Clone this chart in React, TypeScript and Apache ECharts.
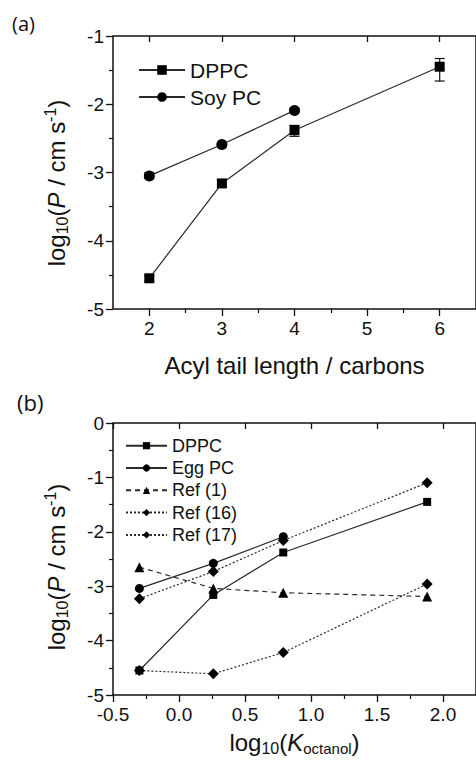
import React, { useEffect, useRef } from "react";
import * as echarts from "echarts";

// ---------- Panel (a) data ----------
const tailLengths = [2, 3, 4, 6];
const dppcA = [-4.55, -3.16, -2.38, -1.45];
const dppcALow = [-4.59, -3.21, -2.47, -1.66];
const dppcAHigh = [-4.51, -3.11, -2.31, -1.33];
const soyTails = [2, 3, 4];
const soyA = [-3.05, -2.59, -2.09];
const soyALow = [-3.09, -2.62, -2.12];
const soyAHigh = [-3.0, -2.56, -2.06];
const tailTicks = [2, 3, 4, 5, 6];
const tailMinorTicks = [2.5, 3.5, 4.5, 5.5];

// ---------- Panel (b) data ----------
const logK = [-0.3, 0.26, 0.79, 1.88];
const logKEgg = [-0.3, 0.26, 0.79];
const dppcB = [-4.55, -3.16, -2.38, -1.45];
const eggB = [-3.04, -2.58, -2.09];
const ref1 = [-2.65, -3.04, -3.12, -3.19];
const ref16 = [-3.23, -2.73, -2.16, -1.1];
const ref17 = [-4.55, -4.61, -4.22, -2.96];
const kTicks = [-0.5, 0, 0.5, 1, 1.5, 2];
const kMinorTicks = [-0.25, 0.25, 0.75, 1.25, 1.75];

const FONT = "Liberation Sans, Arial, sans-serif";
const INK = "#111";
const LINE = "#2a2a2a";

const zip = (xs: number[], ys: number[]) => ys.map((y, i) => [xs[i], y]);
const zip3 = (xs: number[], a: number[], b: number[]) => xs.map((x, i) => [x, a[i], b[i]]);

function errorBars(xAxisIndex: number, yAxisIndex: number, data: number[][]) {
  return {
    type: "custom",
    xAxisIndex,
    yAxisIndex,
    z: 1,
    encode: { x: 0, y: [1, 2] },
    data,
    renderItem: (_p: any, api: any) => {
      const x = api.value(0);
      const lo = api.coord([x, api.value(1)]);
      const hi = api.coord([x, api.value(2)]);
      const hw = 5;
      const style = { stroke: INK, lineWidth: 1.2, fill: "none" };
      return {
        type: "group",
        children: [
          { type: "line", shape: { x1: lo[0], y1: lo[1], x2: hi[0], y2: hi[1] }, style },
          { type: "line", shape: { x1: lo[0] - hw, y1: lo[1], x2: lo[0] + hw, y2: lo[1] }, style },
          { type: "line", shape: { x1: hi[0] - hw, y1: hi[1], x2: hi[0] + hw, y2: hi[1] }, style },
        ],
      };
    },
  };
}

const noLine = () => ({ show: false, onZero: false });
const labelStyle = () => ({ fontFamily: FONT, fontSize: 19, color: INK });

function bottomAxis(gridIndex: number, min: number, max: number, majors: number[], fmt: (v: number) => string, name: string, nameGap: number, rich?: any) {
  return {
    type: "value",
    gridIndex,
    position: "bottom",
    min,
    max,
    axisLine: noLine(),
    axisTick: { show: true, inside: false, length: 7, customValues: majors, lineStyle: { color: INK, width: 1.3 } },
    axisLabel: { ...labelStyle(), margin: 10, customValues: majors, formatter: fmt },
    splitLine: { show: false },
    name,
    nameLocation: "middle",
    nameGap,
    nameTextStyle: { fontFamily: FONT, fontSize: 24, color: INK, lineHeight: 28, rich },
  };
}
function minorAxis(gridIndex: number, min: number, max: number, minors: number[]) {
  return {
    type: "value",
    gridIndex,
    position: "bottom",
    min,
    max,
    axisLine: noLine(),
    axisTick: { show: true, inside: false, length: 4, customValues: minors, lineStyle: { color: INK, width: 1.2 } },
    axisLabel: { show: false },
    splitLine: { show: false },
  };
}
function topAxis(gridIndex: number, min: number, max: number, majors: number[]) {
  return {
    type: "value",
    gridIndex,
    position: "top",
    min,
    max,
    axisLine: noLine(),
    axisTick: { show: true, inside: true, length: 6, customValues: majors, lineStyle: { color: INK, width: 1.3 } },
    axisLabel: { show: false },
    splitLine: { show: false },
  };
}

const yRich = () => ({
  sub: { fontFamily: FONT, fontSize: 16, lineHeight: 10, verticalAlign: "bottom", color: INK },
  sup: { fontFamily: FONT, fontSize: 16, lineHeight: 14, verticalAlign: "top", color: INK },
  it: { fontFamily: FONT, fontSize: 24, fontStyle: "italic", color: INK },
});
const yName = "log{sub|10}({it|P} / cm s{sup|-1})";

function leftAxis(gridIndex: number, min: number, max: number, shift: number) {
  return {
    type: "value",
    gridIndex,
    min,
    max,
    interval: 1,
    axisLine: noLine(),
    axisTick: { show: true, inside: false, length: 7, lineStyle: { color: INK, width: 1.3 } },
    minorTick: { show: true, splitNumber: 2, length: 4, lineStyle: { color: INK, width: 1.2 } },
    axisLabel: { ...labelStyle(), margin: 9, formatter: (v: number) => String(v) },
    splitLine: { show: false },
    minorSplitLine: { show: false },
    name: yName,
    nameLocation: "middle",
    nameRotate: 90,
    nameGap: 43,
    nameTextStyle: { fontFamily: FONT, fontSize: 24, color: INK, lineHeight: 28, rich: yRich(), padding: [0, shift, 0, 0] },
  };
}

function lineSeries(name: string, xA: number, yA: number, data: number[][], symbol: string, size: number, type: any = "solid") {
  return {
    type: "line",
    name,
    xAxisIndex: xA,
    yAxisIndex: yA,
    data,
    symbol,
    symbolSize: size,
    z: 3,
    itemStyle: { color: "#000" },
    lineStyle: { color: LINE, width: 1.2, type },
  };
}

const frame = { show: true, borderColor: INK, borderWidth: 1.5, backgroundColor: "transparent" };

export default function App() {
  const ref = useRef<HTMLDivElement>(null);
  useEffect(() => {
    if (!ref.current) return;
    const chart = echarts.init(ref.current, undefined, { renderer: "svg" });
    chart.setOption({
      animation: false,
      backgroundColor: "#fff",
      grid: [
        { ...frame, left: 113, top: 36, width: 370, height: 273 },
        { ...frame, left: 113, top: 423, width: 370, height: 272 },
      ],
      xAxis: [
        bottomAxis(0, 1.5, 6.5, tailTicks, (v) => String(v), "Acyl tail length / carbons", 42),
        minorAxis(0, 1.5, 6.5, tailMinorTicks),
        topAxis(0, 1.5, 6.5, tailTicks),
        bottomAxis(1, -0.5, 2.25, kTicks, (v) => v.toFixed(1), "log{sub|10}({it|K}{sub2|octanol})", 33, {
          sub: { fontFamily: FONT, fontSize: 16, lineHeight: 7, verticalAlign: "bottom", color: INK },
          sub2: { fontFamily: FONT, fontSize: 15, lineHeight: 7, verticalAlign: "bottom", color: INK },
          it: { fontFamily: FONT, fontSize: 24, fontStyle: "italic", color: INK },
        }),
        minorAxis(1, -0.5, 2.25, kMinorTicks),
        topAxis(1, -0.5, 2.25, kTicks),
      ],
      yAxis: [leftAxis(0, -5, -1, 21), leftAxis(1, -5, 0, 16)],
      legend: [
        {
          data: ["DPPC", "Soy PC"],
          orient: "vertical",
          left: 138,
          top: 59.5,
          padding: 0,
          itemWidth: 46,
          itemHeight: 12,
          itemGap: 6,
          selectedMode: false,
          textStyle: { fontFamily: FONT, fontSize: 21, color: INK },
        },
        {
          data: ["DPPC (b)", "Egg PC", "Ref (1)", "Ref (16)", "Ref (17)"],
          orient: "vertical",
          left: 125,
          top: 436.7,
          padding: 0,
          itemWidth: 41,
          itemHeight: 9,
          itemGap: 4.3,
          selectedMode: false,
          formatter: (n: string) => n.replace(" (b)", ""),
          textStyle: { fontFamily: FONT, fontSize: 18, color: INK },
        },
      ],
      graphic: [
        { type: "text", left: 12, top: 13, style: { text: "(a)", font: "20px 'Open Sans'", fill: INK } },
        { type: "text", left: 17, top: 391, style: { text: "(b)", font: "22px 'Open Sans'", fill: INK } },
      ],
      series: [
        errorBars(0, 0, zip3(tailLengths, dppcALow, dppcAHigh)),
        errorBars(0, 0, zip3(soyTails, soyALow, soyAHigh)),
        lineSeries("DPPC", 0, 0, zip(tailLengths, dppcA), "rect", 10),
        lineSeries("Soy PC", 0, 0, zip(soyTails, soyA), "circle", 11),
        lineSeries("DPPC (b)", 3, 1, zip(logK, dppcB), "rect", 8),
        lineSeries("Egg PC", 3, 1, zip(logKEgg, eggB), "circle", 9),
        lineSeries("Ref (1)", 3, 1, zip(logK, ref1), "triangle", 10, [5, 4]),
        lineSeries("Ref (16)", 3, 1, zip(logK, ref16), "diamond", 11, [2, 2]),
        lineSeries("Ref (17)", 3, 1, zip(logK, ref17), "diamond", 11, [2, 2]),
      ],
    });
    return () => chart.dispose();
  }, []);
  return <div ref={ref} style={{ position: "absolute", left: 0, top: 0, width: 476, height: 768 }} />;
}
